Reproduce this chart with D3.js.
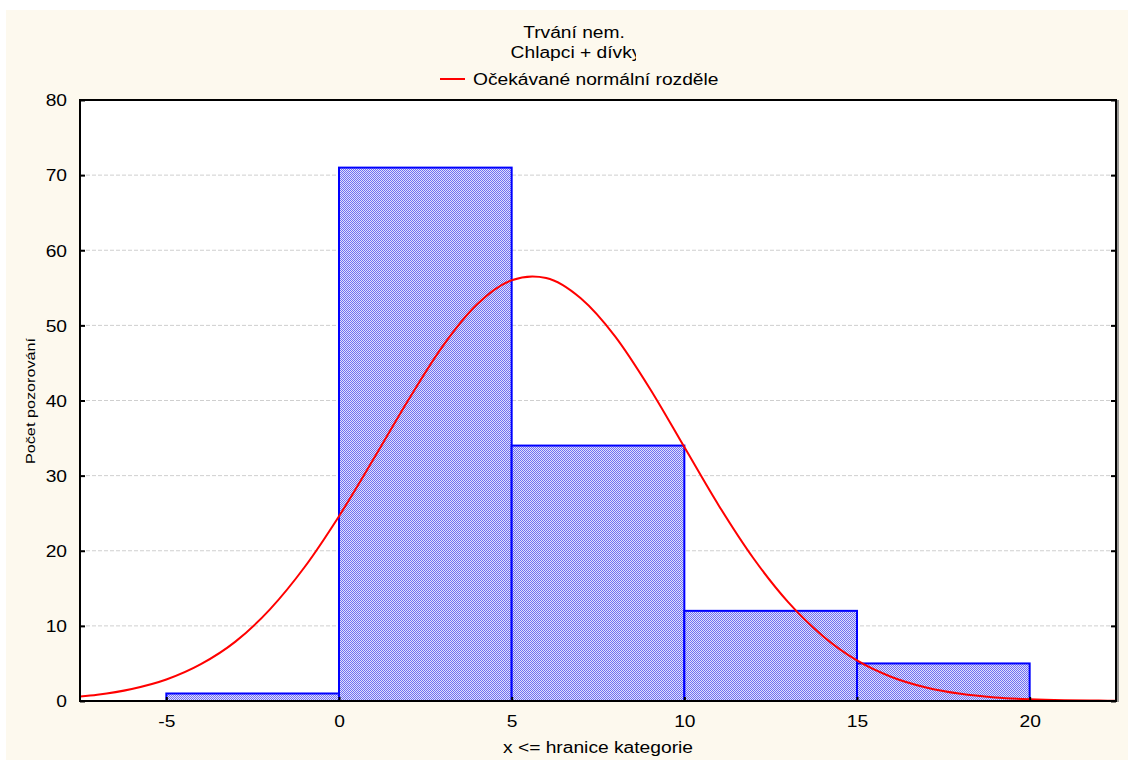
<!DOCTYPE html>
<html>
<head>
<meta charset="utf-8">
<script src="https://cdn.jsdelivr.net/npm/d3@7"></script>
<style>
html,body{margin:0;padding:0;background:#fff;}
svg{display:block;}
text{font-family:"Liberation Sans",Arial,sans-serif;fill:#000;}
</style>
</head>
<body>
<svg id="chart" width="1128" height="760"></svg>
<script>
// ---- data ----
const binStarts = [-5, 0, 5, 10, 15];
const binEnds   = [0, 5, 10, 15, 20];
const counts    = [1, 71, 34, 12, 5];
// expected normal curve
const curveX = [-7.5,-7,-6,-5,-4,-3,-2,-1,0,1,2,3,4,5,5.6,6,7,8,9,10,11,12,13,14,15,16,17,18,19,20,21,22,22.5];
const curveY = [0.59,0.83,1.6,2.86,4.9,7.9,12.2,17.8,24.6,32.2,40.0,47.2,52.8,56.0,56.5,56.3,53.6,48.5,41.6,33.8,26.0,19.0,13.2,8.7,5.4,3.2,1.8,0.95,0.48,0.23,0.1,0.05,0.03];
const xTicks = [-5, 0, 5, 10, 15, 20];
const yTicks = [0, 10, 20, 30, 40, 50, 60, 70, 80];
const titleLines = ["Trvání nem.", "Chlapci + dívky"];
const legendLabel = "Očekávané normální rozděle";
const xLabel = "x <= hranice kategorie";
const yLabel = "Počet pozorování";

// ---- layout ----
const svg = d3.select("#chart");
const L = 80, R = 1116, T = 100, B = 701;
const x = d3.scaleLinear().domain([-7.5, 22.5]).range([L, R]);
const y = d3.scaleLinear().domain([0, 80]).range([B, T]);
const FS = 16;

// background
svg.append("rect").attr("x", 6).attr("y", 10).attr("width", 1122).attr("height", 750).attr("fill", "#fdf9ee");

const defs = svg.append("defs");
const pat = defs.append("pattern").attr("id", "hatch").attr("patternUnits", "userSpaceOnUse")
  .attr("width", 2).attr("height", 2);
pat.append("rect").attr("width", 2).attr("height", 2).attr("fill", "#e0e0fc");
pat.append("rect").attr("x", 0).attr("y", 0).attr("width", 1).attr("height", 1).attr("fill", "#7070f2");
pat.append("rect").attr("x", 1).attr("y", 1).attr("width", 1).attr("height", 1).attr("fill", "#7070f2");
defs.append("clipPath").attr("id", "plotclip").append("rect")
  .attr("x", L).attr("y", T).attr("width", R - L).attr("height", B - T);
defs.append("clipPath").attr("id", "titleclip").append("rect")
  .attr("x", 0).attr("y", 0).attr("width", 636).attr("height", 760);

// plot area
svg.append("rect").attr("x", L).attr("y", T).attr("width", R - L).attr("height", B - T).attr("fill", "#fff");

// gridlines
svg.append("g").selectAll("line").data(yTicks.filter(d => d > 0 && d < 80)).join("line")
  .attr("x1", L).attr("x2", R).attr("y1", d => y(d)).attr("y2", d => y(d))
  .attr("stroke", "#cfcfcf").attr("stroke-width", 1).attr("stroke-dasharray", "4,2");

// bars
const bins = counts.map((c, i) => ({x0: binStarts[i], x1: binEnds[i], c}));
svg.append("g").selectAll("rect").data(bins).join("rect")
  .attr("x", d => x(d.x0)).attr("y", d => y(d.c))
  .attr("width", d => x(d.x1) - x(d.x0)).attr("height", d => y(0) - y(d.c))
  .attr("fill", "url(#hatch)").attr("stroke", "#0000ff").attr("stroke-width", 2);

// curve
const line = d3.line().x((d, i) => x(curveX[i])).y(d => y(d)).curve(d3.curveMonotoneX);
svg.append("path").datum(curveY).attr("d", line).attr("fill", "none")
  .attr("stroke", "#ff0000").attr("stroke-width", 2).attr("clip-path", "url(#plotclip)");

// axes (inward ticks)
const fmt = d => String(d);
const yAxis = d3.axisLeft(y).tickValues(yTicks).tickFormat(fmt).tickSizeInner(-5).tickSizeOuter(0).tickPadding(13);
const gy = svg.append("g").attr("transform", `translate(${L},0)`).call(yAxis);
gy.select(".domain").remove();
gy.selectAll(".tick line").attr("stroke", "#000").attr("stroke-width", 2);
gy.selectAll(".tick text").attr("font-size", FS).attr("font-family", "Liberation Sans, Arial, sans-serif").attr("dy", "0.36em");

const yAxisR = d3.axisRight(y).tickValues(yTicks).tickSizeInner(-5).tickSizeOuter(0).tickFormat("");
const gyr = svg.append("g").attr("transform", `translate(${R},0)`).call(yAxisR);
gyr.select(".domain").remove();
gyr.selectAll(".tick line").attr("stroke", "#000").attr("stroke-width", 2);

const xAxis = d3.axisBottom(x).tickValues(xTicks).tickFormat(fmt).tickSizeInner(-4).tickSizeOuter(0).tickPadding(15);
const gx = svg.append("g").attr("transform", `translate(0,${B})`).call(xAxis);
gx.select(".domain").remove();
gx.selectAll(".tick line").attr("stroke", "#000").attr("stroke-width", 2);
gx.selectAll(".tick text").attr("font-size", FS).attr("font-family", "Liberation Sans, Arial, sans-serif");

// frame
svg.append("rect").attr("x", L).attr("y", T).attr("width", R - L).attr("height", B - T)
  .attr("fill", "none").attr("stroke", "#000").attr("stroke-width", 2);
svg.append("line").attr("x1", R + 2).attr("x2", R + 2).attr("y1", T).attr("y2", B + 1)
  .attr("stroke", "#777").attr("stroke-width", 1.5);

// titles
svg.append("text").attr("x", 574).attr("y", 38).attr("text-anchor", "middle").attr("font-size", FS).text(titleLines[0]);
svg.append("text").attr("x", 576).attr("y", 58).attr("text-anchor", "middle").attr("font-size", FS)
  .attr("clip-path", "url(#titleclip)").text(titleLines[1]);

// legend
svg.append("line").attr("x1", 440).attr("x2", 465).attr("y1", 79).attr("y2", 79).attr("stroke", "#ff0000").attr("stroke-width", 2);
svg.append("text").attr("x", 473).attr("y", 85).attr("font-size", FS).text(legendLabel);

// axis labels
svg.append("text").attr("x", (L + R) / 2).attr("y", 753).attr("text-anchor", "middle").attr("font-size", FS).text(xLabel);
svg.append("text").attr("transform", "translate(35,401) rotate(-90)").attr("text-anchor", "middle").attr("font-size", 13.5).text(yLabel);

// the reference font is drawn horizontally wider than the installed one
svg.selectAll("text").each(function() {
  const t = d3.select(this);
  if (!this.textContent) return;
  const w = this.getComputedTextLength();
  t.attr("textLength", w * 1.2).attr("lengthAdjust", "spacingAndGlyphs");
});
</script>
</body>
</html>
